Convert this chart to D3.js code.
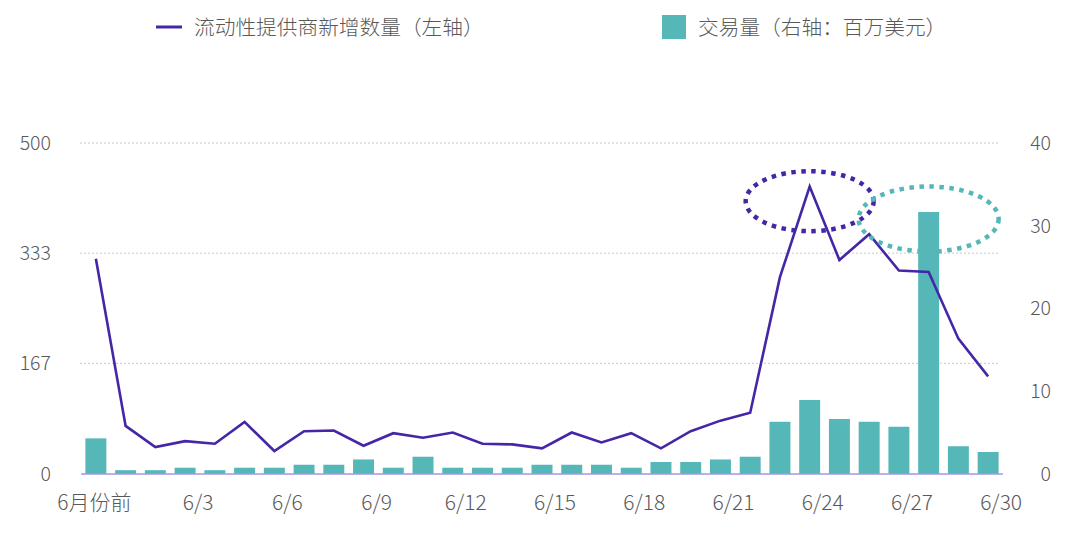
<!DOCTYPE html>
<html><head><meta charset="utf-8">
<script src="https://cdn.jsdelivr.net/npm/d3@7/dist/d3.min.js"></script>
<style>
body{margin:0;background:#fff;}
text{font-family:"Noto Sans CJK SC","Noto Sans",sans-serif;font-weight:300;fill:#595959;}
</style></head><body>
<svg id="c" width="1080" height="540"></svg>
<script>
const categories = ["6月份前"].concat(d3.range(1,31).map(d=>"6/"+d));
const providers = [325,72,40,49,45,78,34,64,65,42,61,54,62,45,44,38,62,47,61,38,64,80,92,297,434,323,362,307,305,204,147];
const volume = [4.25,0.4,0.4,0.7,0.4,0.7,0.7,1.06,1.06,1.7,0.7,2.03,0.7,0.7,0.7,1.06,1.06,1.06,0.7,1.39,1.39,1.7,2.03,6.26,8.9,6.6,6.26,5.66,31.65,3.3,2.6];
const xTickLabels = ["6月份前","6/3","6/6","6/9","6/12","6/15","6/18","6/21","6/24","6/27","6/30"];
const leftTicks = ["0","167","333","500"];
const rightTicks = ["0","10","20","30","40"];
const legendLabels = ["流动性提供商新增数量（左轴）","交易量（右轴：百万美元）"];

const svg = d3.select("#c");
const L=81, R=1003, T=143, B=473.5;
const x = d3.scaleBand().domain(categories).range([L,R]).paddingInner(0.295).paddingOuter(0.1475);
const yL = d3.scaleLinear().domain([0,500]).range([B,T]);
const yR = d3.scaleLinear().domain([0,40]).range([B,T]);
const cx = d => x(d)+x.bandwidth()/2;

// grid
leftTicks.forEach((t,i)=>{
  const v = i*500/3, y = yL(v);
  if(i>0) svg.append("line").attr("x1",L-1).attr("x2",R-3).attr("y1",y).attr("y2",y)
    .attr("stroke","#c8c8c8").attr("stroke-width",1).attr("stroke-dasharray","2,2");
  svg.append("text").attr("x",51).attr("y",y).attr("dy","0.36em").attr("text-anchor","end")
    .attr("font-size",19.5).text(t);
});
rightTicks.forEach((t,i)=>{
  svg.append("text").attr("x",1051).attr("y",yR(i*10)).attr("dy","0.36em").attr("text-anchor","end")
    .attr("font-size",19.5).text(t);
});

// bars
svg.append("g").selectAll("rect").data(volume).join("rect")
  .attr("x",(d,i)=>x(categories[i])).attr("width",x.bandwidth())
  .attr("y",d=>yR(d)).attr("height",d=>B-yR(d)).attr("fill","#56b7b8");

// baseline
svg.append("line").attr("x1",L).attr("x2",R).attr("y1",B+0.5).attr("y2",B+0.5)
  .attr("stroke","#7b62d6").attr("stroke-width",1.2);

// line
svg.append("path").datum(providers)
  .attr("d",d3.line().x((d,i)=>cx(categories[i])).y(d=>yL(d)))
  .attr("fill","none").attr("stroke","#4526a6").attr("stroke-width",2.6).attr("stroke-linejoin","miter");

// x labels
xTickLabels.forEach((t)=>{
  const i = categories.indexOf(t);
  svg.append("text").attr("x",cx(t)+(i===0?-1.5:13)).attr("y",509.5).attr("text-anchor","middle")
    .attr("font-size",21).text(t);
});

// annotations
svg.append("ellipse").attr("cx",cx("6/24")).attr("cy",yL(412)).attr("rx",64).attr("ry",30)
  .attr("fill","none").attr("stroke","#4526a6").attr("stroke-width",4.5).attr("stroke-dasharray","4.5,5.5");
svg.append("ellipse").attr("cx",cx("6/28")).attr("cy",yR(30.8)).attr("rx",70).attr("ry",32.5)
  .attr("fill","none").attr("stroke","#56b7b8").attr("stroke-width",4.5).attr("stroke-dasharray","4.5,5.5");

// legend
svg.append("line").attr("x1",156).attr("x2",182).attr("y1",27).attr("y2",27)
  .attr("stroke","#4526a6").attr("stroke-width",3);
svg.append("text").attr("x",194).attr("y",34.5).attr("font-size",20.7).text(legendLabels[0]);
svg.append("rect").attr("x",662).attr("y",15).attr("width",24).attr("height",24).attr("fill","#56b7b8");
svg.append("text").attr("x",698).attr("y",34.5).attr("font-size",20.7).text(legendLabels[1]);
</script></body></html>
